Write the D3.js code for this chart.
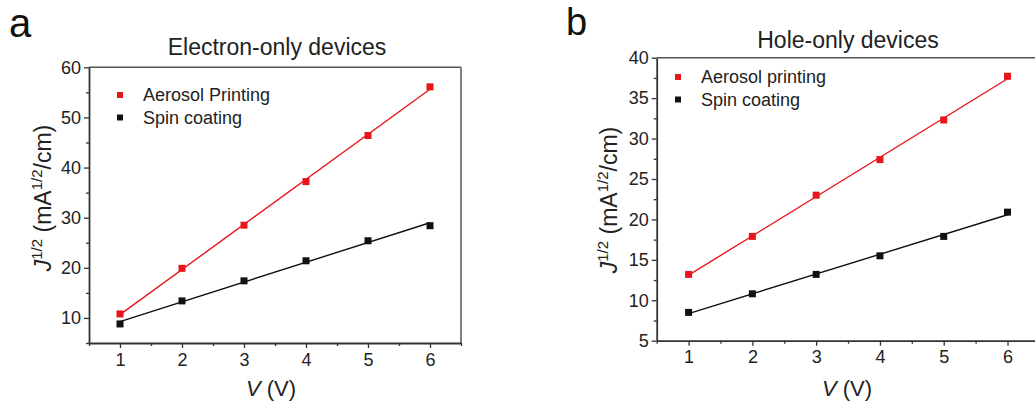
<!DOCTYPE html>
<html>
<head>
<meta charset="utf-8">
<script src="https://cdn.jsdelivr.net/npm/d3@7"></script>
<style>
  body { margin: 0; background: #fff; }
  svg { display: block; font-family: "Liberation Sans", Arial, sans-serif; }
</style>
</head>
<body>
<svg id="chart" width="1035" height="402"></svg>
<script>
const voltage = [1, 2, 3, 4, 5, 6];

// electron-only devices
const electronAerosol = [10.8, 19.9, 28.5, 37.2, 46.4, 56.1];
const electronSpin = [8.8, 13.4, 17.4, 21.4, 25.4, 28.4];

// hole-only devices
const holeAerosol = [13.2, 17.9, 23.0, 27.4, 32.3, 37.7];
const holeSpin = [8.5, 10.8, 13.2, 15.5, 17.9, 20.9];

const xTicks = [1, 2, 3, 4, 5, 6];
const electronYTicks = [10, 20, 30, 40, 50, 60];
const holeYTicks = [5, 10, 15, 20, 25, 30, 35, 40];

const red = "#e8161b";
const black = "#111";
const axisColor = "#333";

const svg = d3.select("#chart");

function fit(xs, ys) {
    let n = xs.length;
    let mx = d3.mean(xs), my = d3.mean(ys);
    let sxy = 0, sxx = 0;
    for (let i = 0; i < n; i++) {
        sxy += (xs[i] - mx) * (ys[i] - my);
        sxx += (xs[i] - mx) * (xs[i] - mx);
    }
    let slope = sxy / sxx;
    return { slope: slope, icept: my - slope * mx };
}

function drawPanel(p) {
    let g = svg.append("g");
    let x = d3.scaleLinear().domain([0.5, 6.5]).range([p.left, p.right]);
    let y = d3.scaleLinear().domain(p.yDomain).range([p.bottom, p.top]);

    // frame (top and right)
    g.append("line")
        .attr("x1", p.left).attr("x2", p.right)
        .attr("y1", p.top).attr("y2", p.top)
        .attr("stroke", "#555").attr("stroke-width", 1.5);
    g.append("line")
        .attr("x1", p.right).attr("x2", p.right)
        .attr("y1", p.top).attr("y2", p.bottom)
        .attr("stroke", "#555").attr("stroke-width", 1.5);

    // minor ticks
    let xMinor = d3.range(0.5, 6.51, 0.5).filter(v => !xTicks.includes(v));
    g.append("g")
        .attr("transform", "translate(0," + p.bottom + ")")
        .call(d3.axisBottom(x).tickValues(xMinor).tickSize(3).tickFormat(""))
        .call(a => a.select(".domain").remove())
        .selectAll("line").attr("stroke", axisColor).attr("stroke-width", 1.3);
    let yMinor = d3.range(p.yDomain[0], p.yDomain[1] + 0.01, p.yMinorStep)
        .filter(v => !p.yTicks.includes(v));
    g.append("g")
        .attr("transform", "translate(" + p.left + ",0)")
        .call(d3.axisLeft(y).tickValues(yMinor).tickSize(3).tickFormat(""))
        .call(a => a.select(".domain").remove())
        .selectAll("line").attr("stroke", axisColor).attr("stroke-width", 1.3);

    // main axes
    let xAxis = g.append("g")
        .attr("transform", "translate(0," + p.bottom + ")")
        .call(d3.axisBottom(x).tickValues(xTicks).tickFormat(d3.format("d"))
            .tickSize(5).tickSizeOuter(0).tickPadding(5));
    let yAxis = g.append("g")
        .attr("transform", "translate(" + p.left + ",0)")
        .call(d3.axisLeft(y).tickValues(p.yTicks).tickFormat(d3.format("d"))
            .tickSize(5).tickSizeOuter(0).tickPadding(3));
    [xAxis, yAxis].forEach(a => {
        a.attr("font-size", 18).attr("font-family", "Liberation Sans, Arial, sans-serif");
        a.select(".domain").attr("stroke", axisColor).attr("stroke-width", 1.8);
        a.selectAll(".tick line").attr("stroke", axisColor).attr("stroke-width", 1.3);
        a.selectAll(".tick text").attr("fill", "#222");
    });

    // fit lines + points
    p.series.forEach(s => {
        let f = fit(voltage, s.values);
        g.append("line")
            .attr("x1", x(1)).attr("y1", y(f.slope * 1 + f.icept))
            .attr("x2", x(6)).attr("y2", y(f.slope * 6 + f.icept))
            .attr("stroke", s.color).attr("stroke-width", 1.4);
        g.selectAll(null)
            .data(voltage.map((v, i) => [v, s.values[i]]))
            .enter()
            .append("rect")
            .attr("x", d => x(d[0]) - 3.5)
            .attr("y", d => y(d[1]) - 3.5)
            .attr("width", 7).attr("height", 7)
            .attr("fill", s.color);
    });

    // legend
    p.series.forEach((s, i) => {
        let ly = p.legendY + i * 22.5;
        g.append("rect")
            .attr("x", p.legendX - 3).attr("y", ly - 3)
            .attr("width", 6).attr("height", 6)
            .attr("fill", s.color);
        g.append("text")
            .attr("x", p.legendX + 23).attr("y", ly + 6)
            .attr("font-size", 18).attr("fill", "#222")
            .text(s.name);
    });

    // title
    g.append("text")
        .attr("x", p.titleX).attr("y", p.titleY)
        .attr("text-anchor", "middle")
        .attr("font-size", 23).attr("fill", "#222")
        .text(p.title);

    // x label
    let xl = g.append("text")
        .attr("x", p.xLabelX).attr("y", 396)
        .attr("text-anchor", "middle")
        .attr("font-size", 22).attr("fill", "#222");
    xl.append("tspan").attr("font-style", "italic").text("V");
    xl.append("tspan").text(" (V)");

    // y label
    let yl = g.append("text")
        .attr("transform", "translate(" + p.yLabelX + "," + p.yLabelY + ") rotate(-90)")
        .attr("text-anchor", "middle")
        .attr("font-size", 23).attr("fill", "#222");
    yl.append("tspan").attr("font-style", "italic").text("J");
    yl.append("tspan").attr("font-size", 15).attr("dy", -9).text("1/2");
    yl.append("tspan").attr("dy", 9).text(" (mA");
    yl.append("tspan").attr("font-size", 15).attr("dy", -9).text("1/2");
    yl.append("tspan").attr("dy", 9).text("/cm)");

    // panel letter
    g.append("text")
        .attr("x", p.letterX).attr("y", p.letterY)
        .attr("font-size", p.letterSize).attr("fill", "#111")
        .text(p.letter);
}

drawPanel({
    left: 89, right: 461, top: 67.3, bottom: 343,
    yDomain: [5, 60], yTicks: electronYTicks, yMinorStep: 5,
    series: [
        { name: "Aerosol Printing", values: electronAerosol, color: red },
        { name: "Spin coating", values: electronSpin, color: black }
    ],
    legendX: 120, legendY: 95,
    title: "Electron-only devices", titleX: 277, titleY: 55,
    xLabelX: 271,
    yLabelX: 51, yLabelY: 198,
    letter: "a", letterX: 9, letterY: 37, letterSize: 40
});

drawPanel({
    left: 656.7, right: 1039.4, top: 57.7, bottom: 340.7,
    yDomain: [5, 40], yTicks: holeYTicks, yMinorStep: 2.5,
    series: [
        { name: "Aerosol printing", values: holeAerosol, color: red },
        { name: "Spin coating", values: holeSpin, color: black }
    ],
    legendX: 678, legendY: 77,
    title: "Hole-only devices", titleX: 848, titleY: 48,
    xLabelX: 847,
    yLabelX: 617, yLabelY: 200,
    letter: "b", letterX: 566, letterY: 35, letterSize: 38
});
</script>
</body>
</html>
